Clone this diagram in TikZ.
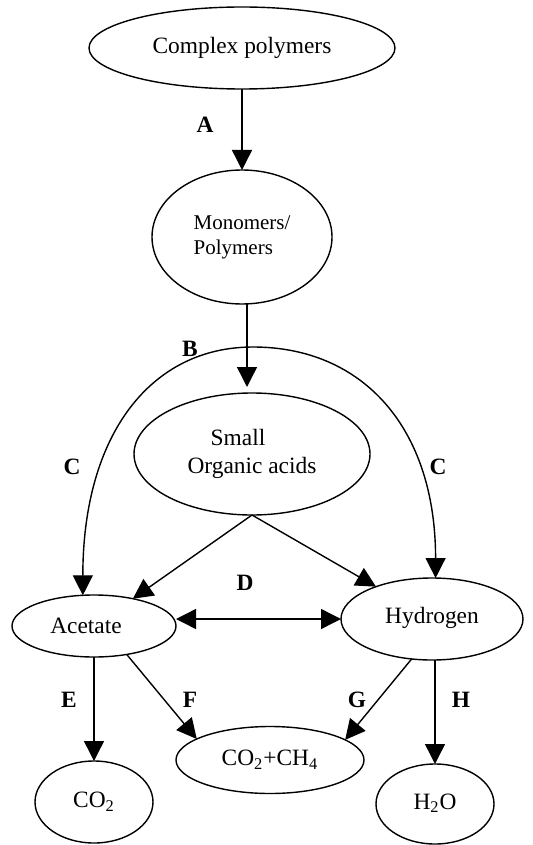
\documentclass[tikz,border=0pt]{standalone}
\usepackage{fontspec}
\setmainfont{Liberation Serif}
\usetikzlibrary{shapes.geometric}
\usetikzlibrary{calc}
\usetikzlibrary{arrows.meta}

\begin{document}
\begin{tikzpicture}[x=0.5pt, y=-0.5pt, line width=0.7pt,
        stage/.style={ellipse, draw, inner sep=0pt, outer sep=0pt, align=center, font={\fontsize{11.7}{14}\selectfont}},
        arr/.style={-{Triangle[length=10pt, width=10pt]}},
        arrs/.style={{Triangle[length=10pt, width=10pt]}-{Triangle[length=10pt, width=10pt]}},
        tag/.style={font={\fontsize{11.7}{14}\selectfont\bfseries}}]

        \useasboundingbox (0,0) rectangle (533,845);

        % Nodes
        \node (cp) [stage, minimum width=153pt, minimum height=41pt] at (242,48) {\raisebox{3pt}{Complex polymers}};
        \node (mono) [stage, minimum width=90pt, minimum height=67pt] at (242,237)
                    {\raisebox{7pt}{\fontsize{10.5}{12.5}\selectfont\begin{tabular}{@{}l@{}}Monomers/\\Polymers\end{tabular}}};
        \node (small) [stage, minimum width=118pt, minimum height=61pt] at (252,454)
                    {\raisebox{4pt}{\begin{tabular}{@{}c@{}}Small\kern14pt\\Organic acids\end{tabular}}};
        \node (ac) [stage, minimum width=82pt, minimum height=31pt] at (94,626) {Acetate\hspace{8pt}};
        \node (hy) [stage, minimum width=91pt, minimum height=41pt] at (432,619) {\raisebox{3.5pt}{Hydrogen}};
        \node (co2) [stage, minimum width=59pt, minimum height=41pt] at (94,802) {\raisebox{2pt}{CO\textsubscript{2}}};
        \node (ch4) [stage, minimum width=94pt, minimum height=33.5pt] at (270,760) {CO\textsubscript{2}+CH\textsubscript{4}};
        \node (h2o) [stage, minimum width=59pt, minimum height=40pt] at (435,804) {\raisebox{2.5pt}{H\textsubscript{2}O}};

        % Labels
        \node (la) [tag] at (205,125) {A};
        \node (lb) [tag] at (190,349) {B};
        \node (lc1) [tag] at (72,467) {C};
        \node (lc2) [tag] at (438,467) {C};
        \node (ld) [tag] at (245,583) {D};
        \node (le) [tag] at (69,700) {E};
        \node (lf) [tag] at (190,700) {F};
        \node (lg) [tag] at (357,700) {G};
        \node (lh) [tag] at (461,700) {H};

        % Arrows
        \coordinate (bx) at ($(mono.south)!0.5!(small.north)$);
        \coordinate (top) at (253,347);
        \draw[arr] (cp) -- (mono);
        \draw[arr, shorten >=3pt] (mono.south -| bx) -- (small.north -| bx);
        \draw[arrs] (ac.110) .. controls +(0,-161) and +(-102,0) .. (top)
                    .. controls +(110,0) and +(0,-150) .. (hy.85);
        \draw[arr] (small.south) -- (ac);
        \draw[arr] (small.south) -- (hy);
        \draw[arrs] (ac.east |- hy.west) -- (hy.west);
        \draw[arr] (ac) -- (co2);
        \draw[arr] (ac.-41) -- (ch4.164);
        \draw[arr] (hy.-117) -- (ch4.15);
        \draw[arr] (hy.south -| h2o) -- (h2o);

    \end{tikzpicture}
\end{document}
